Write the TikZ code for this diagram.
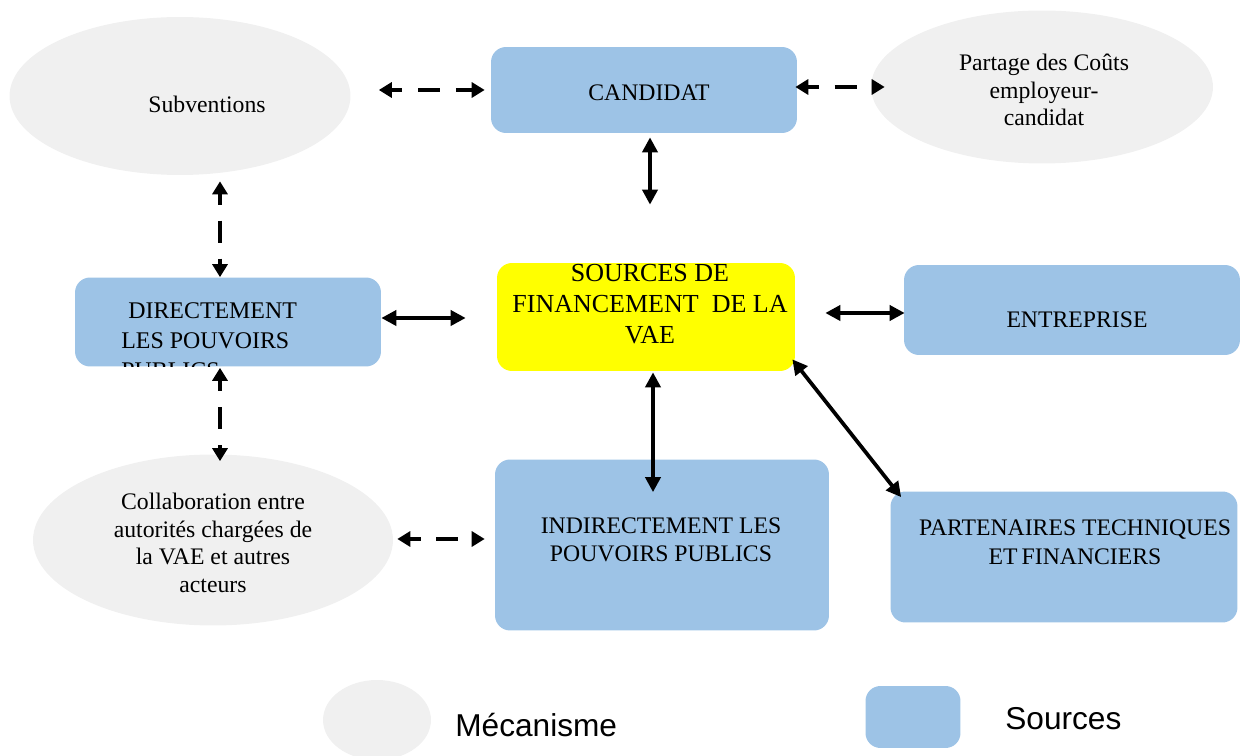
\documentclass[tikz,border=0pt]{standalone}
\usepackage{fontspec}
\setmainfont{Liberation Serif}
\newfontfamily\legendfont{Liberation Sans}
\usetikzlibrary{shapes.geometric,arrows.meta}
\definecolor{sourceblue}{RGB}{157,195,230}
\definecolor{mecagray}{RGB}{240,240,240}
\definecolor{vaeyellow}{RGB}{255,255,0}

\begin{document}
\begin{tikzpicture}[x=0.02cm, y=-0.02cm,
	sourcebox/.style={rectangle, rounded corners=0.3cm, fill=sourceblue, inner sep=0pt},
	mecanisme/.style={ellipse, fill=mecagray, inner sep=0pt},
	txt/.style={font=\fontsize{13.5}{15.6}\selectfont, align=center, inner sep=0pt},
	solidarrow/.style={{Triangle[length=0.3cm,width=0.3cm]}-{Triangle[length=0.3cm,width=0.3cm]}, line width=0.075cm},
	dasharrow/.style={{Triangle[length=0.26cm,width=0.3cm]}-{Triangle[length=0.26cm,width=0.3cm]}, line width=0.09cm, dash pattern=on 0.44cm off 0.32cm, dash phase=0.22cm}]
\useasboundingbox (0,0) rectangle (1242,756);

% mecanismes
\node[mecanisme, minimum width=6.82cm, minimum height=3.16cm] (subv) at (180,96) {};
\node[txt] (subvtxt) at (207,104) {Subventions};
\node[mecanisme, minimum width=6.84cm, minimum height=3.06cm] (partage) at (1042,87) {};
\node[txt, font=\fontsize{13.5}{15.8}\selectfont] (partagetxt) at (1044,90) {Partage des Coûts\\employeur-\\candidat};
\node[mecanisme, minimum width=7.2cm, minimum height=3.42cm] (collab) at (213,540) {};
\node[txt] (collabtxt) at (213,543) {Collaboration entre\\autorités chargées de\\la VAE et autres\\acteurs};

% sources
\node[sourcebox, minimum width=6.12cm, minimum height=1.72cm] (candidat) at (644,90) {};
\node[txt] (candidattxt) at (649,93) {CANDIDAT};
\node[sourcebox, minimum width=6.12cm, minimum height=1.78cm] (dir) at (228,322) {};
\begin{scope}
\clip[rounded corners=0.3cm] (dir.south west) rectangle (dir.north east);
\node[txt, align=left, anchor=west, font=\fontsize{13.6}{17}\selectfont] (dirtxt) at (121,341) {\hspace*{0.14cm}DIRECTEMENT\\LES POUVOIRS\\PUBLICS};
\end{scope}
\node[rectangle, rounded corners=0.3cm, fill=vaeyellow, inner sep=0pt, minimum width=5.96cm, minimum height=2.16cm] (sources) at (646,317) {};
\node[txt, font=\fontsize{14.8}{17.6}\selectfont] (sourcestxt) at (650,304) {SOURCES DE\\FINANCEMENT\ \ DE LA\\VAE};
\node[sourcebox, minimum width=6.72cm, minimum height=1.8cm] (entreprise) at (1072,310) {};
\node[txt] (entreprisetxt) at (1077,320) {ENTREPRISE};
\node[sourcebox, minimum width=6.68cm, minimum height=3.42cm] (indir) at (662,545) {};
\node[txt, font=\fontsize{13.5}{16}\selectfont] (indirtxt) at (661,540) {INDIRECTEMENT LES\\POUVOIRS PUBLICS};
\node[sourcebox, minimum width=6.94cm, minimum height=2.62cm] (partenaires) at (1064,557) {};
\node[txt, font=\fontsize{13.5}{16.4}\selectfont] (partenairestxt) at (1075,542) {PARTENAIRES TECHNIQUES\\ET\hspace{0.17em}FINANCIERS};

% liens
\draw[dasharrow] ([shift={(28,-6)}]subv.east) -- ([shift={(-6,0)}]candidat.west);
\draw[dasharrow] ([shift={(-2,-3)}]candidat.east) -- ([shift={(14,0)}]partage.west);
\draw[solidarrow] ([shift={(6,4)}]candidat.south) -- ([shift={(4,-58)}]sources.north);
\draw[dasharrow] ([shift={(40,6)}]subv.south) -- ([shift={(-8,0)}]dir.north);
\draw[solidarrow] ([shift={(0,-4)}]dir.east) -- ([shift={(-31,1)}]sources.west);
\draw[solidarrow] ([shift={(30,-4)}]sources.east) -- ([shift={(1,3)}]entreprise.west);
\draw[dasharrow] ([shift={(-8,1)}]dir.south) -- ([shift={(7,7)}]collab.north);
\draw[dasharrow] ([shift={(4,-1)}]collab.east) -- ([shift={(-10,-6)}]indir.west);
\draw[solidarrow] ([shift={(7,1)}]sources.south) -- ([shift={(-9,33)}]indir.north);
\draw[solidarrow] ([shift={(-3,-12)}]sources.south east) -- ([shift={(11,6)}]partenaires.north west);

% legende
\node[mecanisme, minimum width=2.16cm, minimum height=1.6cm] (legmeca) at (377,720) {};
\node[anchor=west, inner sep=0pt, font=\legendfont\fontsize{18}{20}\selectfont] (legmecatxt) at (455,725) {Mécanisme};
\node[sourcebox, minimum width=1.9cm, minimum height=1.24cm] (legsource) at (913,717) {};
\node[anchor=west, inner sep=0pt, font=\legendfont\fontsize{18}{20}\selectfont] (legsourcetxt) at (1005,719) {Sources};
\end{tikzpicture}
\end{document}
